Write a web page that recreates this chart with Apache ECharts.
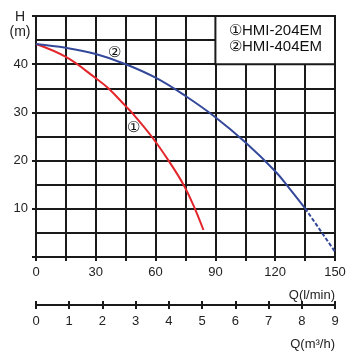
<!DOCTYPE html>
<html>
<head>
<meta charset="utf-8">
<script src="https://cdn.jsdelivr.net/npm/echarts@6/dist/echarts.min.js"></script>
<style>
  html, body { margin: 0; padding: 0; background: #fff; }
  #chart { width: 352px; height: 364px; }
</style>
</head>
<body>
<div id="chart"></div>
<script>
// pump curves
const redFlow = [0, 15, 30, 36.3, 45, 48, 58, 66.5, 74, 79, 84]
const redHead = [44.2, 41.5, 37.1, 35, 31.3, 30, 25, 20, 15, 10.7, 5.6]
const blueFlow = [0, 15, 30, 45, 60, 75, 90, 105, 120, 127, 135]
const blueHead = [44.2, 43.4, 42.1, 40, 37.2, 33.4, 29, 23.8, 17.8, 14.3, 10.1]
const blueDashFlow = [135, 150]
const blueDashHead = [10.1, 1.1]
const seriesNames = ['①HMI-204EM', '②HMI-404EM']
// circled number tags on the curves: [flow, head]
const redTag = [48.7, 26.7]
const blueTag = [39.6, 42.4]
// tick labels
const lminTicks = [0, 30, 60, 90, 120, 150]
const m3hTicks = [0, 1, 2, 3, 4, 5, 6, 7, 8, 9]
const headTicks = [10, 20, 30, 40]

const FONT = 'Liberation Sans, Arial, sans-serif'
const INK = '#1a1a1a'
const RED = '#e3262b'
const BLUE = '#34489a'

const pairs = (xs, ys) => xs.map((x, i) => [x, ys[i]])

const chart = echarts.init(document.getElementById('chart'))

const tagPoint = (coord, text) => ({
  symbol: 'circle',
  symbolSize: 1,
  itemStyle: { color: 'rgba(0,0,0,0)' },
  label: { show: true, position: 'inside', fontSize: 15, color: '#111', formatter: text },
  data: [{ coord: coord }]
})

const option = {
  animation: false,
  grid: { left: 36, top: 16, right: 17, bottom: 107, containLabel: false },
  legend: {
    orient: 'vertical',
    left: 220,
    top: 19,
    padding: 4,
    itemGap: 1,
    itemWidth: 0,
    itemHeight: 15,
    icon: 'none',
    selectedMode: false,
    z: 10,
    textStyle: { fontSize: 15, color: '#111', fontFamily: FONT },
    data: seriesNames
  },
  xAxis: [
    {
      type: 'value', min: 0, max: 150, interval: 15,
      axisLine: { show: true, lineStyle: { color: INK, width: 2 } },
      axisTick: { show: true, length: 4, lineStyle: { color: INK, width: 2 } },
      axisLabel: {
        margin: 9, fontSize: 13, color: '#222', fontFamily: FONT,
        formatter: v => (lminTicks.includes(v) ? String(v) : '')
      },
      splitLine: { show: true, lineStyle: { color: INK, width: 2 } },
      name: 'Q(l/min)',
      nameLocation: 'end',
      nameGap: 0,
      nameTextStyle: { fontSize: 13, color: '#222', fontFamily: FONT, align: 'right', verticalAlign: 'top', padding: [32, 0, 0, 0] }
    },
    {
      type: 'value', min: 0, max: 9, interval: 1,
      position: 'bottom', offset: 48,
      axisLine: { show: true, onZero: false, lineStyle: { color: INK, width: 2 } },
      axisTick: { show: true, length: 4, lineStyle: { color: INK, width: 2 } },
      axisLabel: {
        margin: 10, fontSize: 13, color: '#222', fontFamily: FONT,
        formatter: v => (m3hTicks.includes(v) ? String(v) : '')
      },
      splitLine: { show: false },
      name: 'Q(m³/h)',
      nameLocation: 'end',
      nameGap: 0,
      nameTextStyle: { fontSize: 13, color: '#222', fontFamily: FONT, align: 'right', verticalAlign: 'top', padding: [33, 0, 0, 0] }
    },
    {
      // upper half of the ticks on the m3/h scale
      type: 'value', min: 0, max: 9, interval: 1,
      position: 'bottom', offset: 48,
      axisLine: { show: false, onZero: false },
      axisTick: { show: true, inside: true, length: 4, lineStyle: { color: INK, width: 2 } },
      axisLabel: { show: false },
      splitLine: { show: false }
    }
  ],
  yAxis: [
    {
      type: 'value', min: 0, max: 50, interval: 5, position: 'left',
      axisLine: { show: true, lineStyle: { color: INK, width: 2 } },
      axisTick: { show: false },
      axisLabel: { show: false },
      splitLine: { show: true, lineStyle: { color: INK, width: 2 } },
      name: 'H\n(m)',
      nameLocation: 'end',
      nameGap: 6,
      nameTextStyle: { fontSize: 14, lineHeight: 15, color: '#222', fontFamily: FONT, align: 'center', verticalAlign: 'top', padding: [0, 32, 0, 0] }
    },
    {
      type: 'value', min: 0, max: 50, interval: 10, position: 'left', offset: 0,
      axisLine: { show: false, onZero: false },
      axisTick: { show: true, length: 4, lineStyle: { color: INK, width: 2 } },
      axisLabel: {
        margin: 8, fontSize: 13, color: '#222', fontFamily: FONT,
        formatter: v => (headTicks.includes(v) ? String(v) : '')
      },
      splitLine: { show: false }
    }
  ],
  series: [
    {
      name: seriesNames[0], type: 'line', smooth: 0.4, symbol: 'none',
      lineStyle: { color: RED, width: 2 }, itemStyle: { color: RED },
      data: pairs(redFlow, redHead),
      markPoint: tagPoint(redTag, '①')
    },
    {
      name: seriesNames[1], type: 'line', smooth: 0.4, symbol: 'none',
      lineStyle: { color: BLUE, width: 2 }, itemStyle: { color: BLUE },
      data: pairs(blueFlow, blueHead),
      markPoint: tagPoint(blueTag, '②')
    },
    {
      name: 'dashed', type: 'line', symbol: 'none',
      lineStyle: { color: BLUE, width: 2, type: [4, 2] },
      data: pairs(blueDashFlow, blueDashHead)
    }
  ]
}
chart.setOption(option)

// white legend box sitting on the grid, corners from the axes' scales
const tl = chart.convertToPixel({ gridIndex: 0 }, [90, 50])
const br = chart.convertToPixel({ gridIndex: 0 }, [150, 40])
chart.setOption({
  graphic: [{
    type: 'rect', z: 5,
    shape: { x: tl[0], y: tl[1], width: br[0] - tl[0], height: br[1] - tl[1] },
    style: { fill: '#fff', stroke: INK, lineWidth: 2 }
  }]
})
</script>
</body>
</html>
